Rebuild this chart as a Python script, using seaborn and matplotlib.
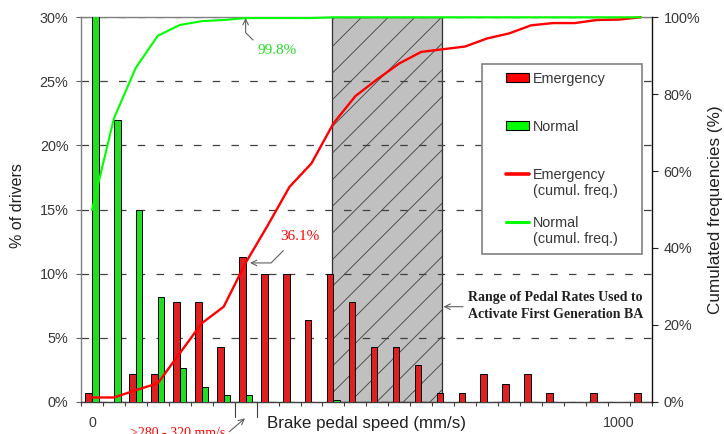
import matplotlib
matplotlib.use('Agg')
import numpy as np
import pandas as pd
import seaborn as sns
import matplotlib.pyplot as plt
from matplotlib.patches import Patch, Rectangle
from matplotlib.lines import Line2D

# brake pedal speed classes (mm/s, 40 mm/s wide)
speed_bins = [0, 40, 80, 120, 160, 200, 240, 280, 320, 360, 400, 440, 480,
              520, 560, 600, 640, 680, 720, 760, 800, 840, 880, 920, 960, 1000]
# % of drivers per class
emergency_pct = [0.7, 0.0, 2.15, 2.15, 7.8, 7.8, 4.25, 11.3, 9.95, 9.95, 6.35, 9.95, 7.8,
                 4.25, 4.25, 2.85, 0.7, 0.7, 2.15, 1.4, 2.15, 0.7, 0.0, 0.7, 0.0, 0.7]
normal_pct = [49.8, 22.0, 15.0, 8.2, 2.6, 1.15, 0.55, 0.5, 0.0, 0.0, 0.0, 0.15, 0.0,
              0.0, 0.0, 0.0, 0.0, 0.0, 0.0, 0.0, 0.0, 0.0, 0.0, 0.0, 0.0, 0.0]
# cumulated frequencies (%)
emergency_cum = [1.1, 1.1, 3.0, 4.8, 12.6, 20.4, 24.7, 36.1, 45.8, 55.9, 62.0, 72.4, 79.5,
                 83.9, 88.0, 91.0, 91.7, 92.4, 94.5, 95.8, 97.9, 98.5, 98.5, 99.3, 99.4, 100.0]
normal_cum = [49.9, 73.7, 86.9, 95.2, 98.0, 99.0, 99.3, 99.8, 99.8, 99.8, 99.8, 100.0, 100.0,
              100.0, 100.0, 100.0, 100.0, 100.0, 100.0, 100.0, 100.0, 100.0, 100.0, 100.0, 100.0, 100.0]

x_tick_pos = [0, 24]
x_tick_labels = ['0', '1000']
left_ticks = [0, 5, 10, 15, 20, 25, 30]
right_ticks = [0, 20, 40, 60, 80, 100]

RED = '#ff0000'
GREEN = '#00ff00'
TXT = '#383838'

sns.set_style('white')
plt.rcParams['font.family'] = ['Liberation Sans', 'DejaVu Sans']
SERIF = ['Liberation Serif', 'DejaVu Serif']

W, H = 724, 434


def ff(x, y):
    """image pixel -> figure fraction"""
    return x / W, 1 - y / H


def fp(x, y):
    """image pixel -> figure pixels"""
    return x, H - y


df = pd.DataFrame({
    'speed': speed_bins * 2,
    'pct': emergency_pct + normal_pct,
    'group': ['Emergency'] * len(speed_bins) + ['Normal'] * len(speed_bins),
})
pos = list(range(len(speed_bins)))

fig = plt.figure(figsize=(7.24, 4.34), dpi=100)
ax = fig.add_axes([81 / W, 1 - 401.7 / H, 570.7 / W, 384.4 / H])

sns.barplot(data=df, x='speed', y='pct', hue='group', hue_order=['Emergency', 'Normal'],
            palette={'Emergency': RED, 'Normal': GREEN}, width=0.6, edgecolor='black',
            linewidth=0.7, errorbar=None, legend=False, ax=ax, zorder=3)

ax.set_xlim(-0.5, len(speed_bins) - 0.5)
ax.set_ylim(0, 30)

# highlighted range with sparse hatching
span_lo, span_hi = 10.95, 15.95
span = ax.axvspan(span_lo, span_hi, facecolor='#c0c0c0', edgecolor='#303030', lw=0.9, zorder=1)
slope = (570.7 / 26) / (384.4 / 30)
xs = np.array([span_lo, span_hi])
for k in range(20):
    ys = 29.8 - k * 2.08 + slope * (xs - span_lo)
    ln, = ax.plot(xs, ys, color='#404040', lw=0.6, zorder=1.2)
    ln.set_clip_path(span)

ax.set_yticks(left_ticks)
ax.set_yticklabels([f'{t}%' for t in left_ticks])
ax.yaxis.grid(True, linestyle=(0, (6, 9)), color='#404040', lw=0.9)
ax.set_axisbelow('line')
ax.tick_params(axis='y', which='major', direction='out', length=3.5, width=0.8,
               color='#606060', labelsize=10.4, labelcolor=TXT, pad=5.5, left=True)

ax.set_xticks(np.arange(-0.5, len(speed_bins), 1))
ax.set_xticklabels([])
ax.set_xticks(x_tick_pos, minor=True)
ax.set_xticklabels(x_tick_labels, minor=True)
ax.tick_params(axis='x', which='major', direction='out', length=3, width=0.8,
               color='#404040', bottom=True)
ax.tick_params(axis='x', which='minor', length=0, pad=10, labelsize=10.3, labelcolor=TXT)
for b in (6.5, 7.5):
    ax.axvline(b, ymin=-0.039, ymax=0, clip_on=False, color='#404040', lw=0.8)

ax.set_xlabel('')
ax.set_ylabel('% of drivers', fontsize=11.5, color='#202020')
ax.yaxis.set_label_coords(-0.098, 0.51)
ax.text(0.5, -0.056, 'Brake pedal speed (mm/s)', transform=ax.transAxes, ha='center',
        va='center', fontsize=12.2, color='#202020')

for s in ('left', 'top'):
    ax.spines[s].set_color('#808080')
    ax.spines[s].set_linewidth(1.0)
ax.spines['bottom'].set_color('#404040')
ax.spines['bottom'].set_linewidth(1.0)
ax.spines['right'].set_visible(False)

# cumulated frequencies
ax2 = ax.twinx()
sns.lineplot(x=pos, y=emergency_cum, ax=ax2, color=RED, linewidth=1.7, clip_on=False)
sns.lineplot(x=pos, y=normal_cum, ax=ax2, color=GREEN, linewidth=1.5, clip_on=False)
ax2.set_xlim(-0.5, len(speed_bins) - 0.5)
ax2.set_ylim(0, 100)
ax2.set_yticks(right_ticks)
ax2.set_yticklabels([f'{t}%' for t in right_ticks])
ax2.tick_params(axis='y', direction='out', length=4, width=0.8, color='#202020',
                labelsize=10.4, labelcolor=TXT, pad=4.5, right=True)
ax2.set_ylabel('Cumulated frequencies (%)', fontsize=12.3, color='#202020')
ax2.yaxis.set_label_coords(1.099, 0.5)
for s in ('left', 'top', 'bottom'):
    ax2.spines[s].set_visible(False)
ax2.spines['right'].set_color('#101010')
ax2.spines['right'].set_linewidth(1.0)

# legend
frame = Rectangle((0.7026, 0.3842), 0.2804, 0.4943, transform=ax2.transAxes,
                  facecolor='white', edgecolor='#808080', lw=1.2, zorder=4)
ax2.add_patch(frame)
blank = Line2D([], [], color='none')
handles = [Patch(facecolor=RED, edgecolor='black', lw=0.8), blank, blank,
           Patch(facecolor=GREEN, edgecolor='black', lw=0.8), blank, blank,
           Line2D([], [], color=RED, lw=2.6), blank, blank,
           Line2D([], [], color=GREEN, lw=2.2), blank]
labels = ['Emergency', '', '', 'Normal', '', '', 'Emergency', '(cumul. freq.)', '',
          'Normal', '(cumul. freq.)']
leg = ax2.legend(handles, labels, loc='upper left', bbox_to_anchor=(0.7442, 0.858),
                 frameon=False, borderpad=0, borderaxespad=0, fontsize=10.4,
                 labelspacing=0.14, handlelength=1.63, handleheight=0.55,
                 handletextpad=0.25, labelcolor=TXT)
leg.set_zorder(5)

# annotations
arrow = dict(arrowstyle='->', color='#606060', lw=0.8, shrinkA=0, shrinkB=0)
fig.text(*ff(299.5, 236), '36.1%', color=RED, family=SERIF, fontsize=11, ha='center', va='center')
ax2.annotate('', xy=(7.2, emergency_cum[7]), xycoords='data', xytext=fp(283.3, 250.7),
             textcoords='figure pixels',
             arrowprops=dict(arrow, connectionstyle='angle,angleA=45,angleB=0,rad=0'))

fig.text(*ff(277.5, 51), '99.8%', color='#22dd22', family=SERIF, fontsize=11, ha='center', va='center')
ax2.annotate('', xy=(7.0, normal_cum[7]), xycoords='data', xytext=fp(253, 40),
             textcoords='figure pixels',
             arrowprops=dict(arrow, connectionstyle='angle,angleA=-45,angleB=90,rad=0'))

fig.text(*ff(468, 306), 'Range of Pedal Rates Used to\nActivate First Generation BA',
         family=SERIF, fontweight='bold', fontsize=10, ha='left', va='center',
         linespacing=1.3, color='#202020')
ax2.annotate('', xy=fp(443.5, 306.7), xycoords='figure pixels', xytext=fp(463, 306.7),
             textcoords='figure pixels', arrowprops=arrow)

fig.text(*ff(225, 427), '>280 - 320 mm/s', color=RED, family=SERIF, fontsize=10,
         ha='right', va='top')
ax2.annotate('', xy=fp(245, 418.3), xycoords='figure pixels', xytext=fp(229.3, 431.7),
             textcoords='figure pixels', arrowprops=arrow, annotation_clip=False)

fig.savefig('out.png', dpi=100)
